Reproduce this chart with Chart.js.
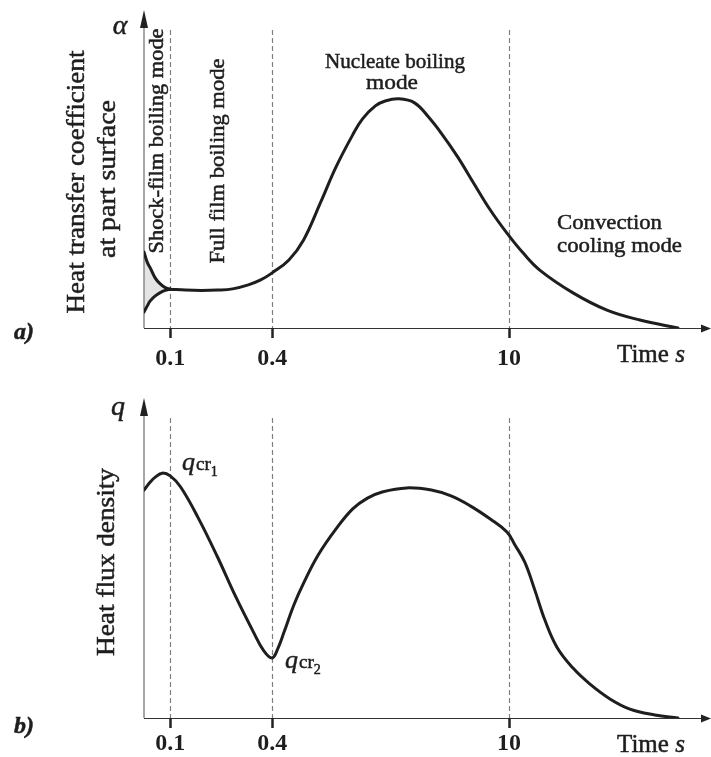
<!DOCTYPE html>
<html>
<head>
<meta charset="utf-8">
<script src="https://cdn.jsdelivr.net/npm/chart.js@4.4.0/dist/chart.umd.min.js"></script>
<style>
  body { margin: 0; background: #fff; }
  canvas { display: block; }
</style>
</head>
<body>
<canvas id="alphaChart" width="711" height="380"></canvas>
<canvas id="fluxChart" width="711" height="377"></canvas>
<script>
// time axis ticks (s)
var tickValues = [0.1, 0.4, 10];
var tickLabels = ["0.1", "0.4", "10"];

// a) shock-film branches (upper / lower envelope)
var shockTime = [0.07, 0.0731, 0.0762, 0.0816, 0.0873, 0.0934, 0.1];
var shockUpper = [24.7, 21.4, 19.5, 16.2, 14.3, 13.1, 12.6];
var shockLower = [5.2, 7.1, 8.8, 10.4, 11.5, 12.2, 12.6];

// a) heat transfer coefficient
var alphaTime = [0.1, 0.1236, 0.1528, 0.189, 0.2335, 0.289, 0.342, 0.4, 0.502, 0.613, 0.77, 0.953,
  1.195, 1.366, 1.626, 1.858, 2.24, 2.77, 3.35, 3.98, 4.99, 6.18, 7.76, 9.73, 12.1, 15.2,
  23.9, 37.9, 59.3, 99.5];
var alphaValue = [12.6, 12.3, 12.2, 12.3, 12.7, 14.0, 15.6, 17.9, 22.1, 28.6, 40.6, 52.3,
  62.7, 67.9, 72.1, 73.7, 74.4, 73.1, 68.5, 63.3, 55.5, 47.1, 38.3, 30.8, 24.4, 18.8,
  11.4, 5.8, 2.6, 0];

// b) heat flux density
var fluxTime = [0.07, 0.0762, 0.0816, 0.0897, 0.1, 0.1152, 0.1465, 0.189, 0.244, 0.31, 0.357, 0.4,
  0.433, 0.47, 0.537, 0.613, 0.749, 0.953, 1.195, 1.461, 1.785, 2.49, 3.48, 4.55, 5.94, 7.76, 9.73,
  10.85, 12.4, 14.2, 16.3, 19.2, 23.9, 30.1, 39.5, 51.8, 72.7, 99.5];
var fluxValue = [74.0, 76.6, 78.2, 79.5, 78.6, 75.0, 64.9, 52.6, 39.3, 27.9, 21.8, 19.5,
  22.7, 27.9, 36.7, 43.8, 53.0, 61.4, 67.9, 71.4, 73.4, 74.7, 74.0, 72.1, 68.8, 64.6, 60.4,
  56.2, 50.6, 41.6, 31.8, 23.0, 16.2, 11.0, 6.2, 2.9, 1.0, 0];

var INK = "#1e1e1e";
var FONT = '"Liberation Serif", "DejaVu Serif", serif';

function pts(xs, ys) {
  return xs.map(function (x, i) { return { x: x, y: ys[i] }; });
}

function ink(ctx, str, x, y) {
  ctx.fillText(str, x, y);
  ctx.strokeText(str, x, y);
}

function drawText(ctx, str, x, y, o) {
  ctx.save();
  ctx.translate(x, y);
  if (o.rotate) ctx.rotate(-Math.PI / 2);
  ctx.font = (o.style || "") + " " + o.size + "px " + FONT;
  ctx.textAlign = o.align || "center";
  ctx.textBaseline = o.baseline || "middle";
  ctx.fillStyle = INK;
  ctx.strokeStyle = INK;
  ctx.lineWidth = 0.5;
  if (o.width) {
    var w = ctx.measureText(str).width;
    ctx.scale(o.width / w, 1);
  }
  ink(ctx, str, 0, 0);
  ctx.restore();
}

function timeLabel(ctx, x, y) {
  ctx.save();
  ctx.fillStyle = INK;
  ctx.strokeStyle = INK;
  ctx.lineWidth = 0.5;
  ctx.textBaseline = "middle";
  ctx.textAlign = "left";
  ctx.font = "25px " + FONT;
  ink(ctx, "Time ", x, y);
  var w = ctx.measureText("Time ").width;
  ctx.font = "italic 25px " + FONT;
  ink(ctx, "s", x + w, y);
  ctx.restore();
}

function qcr(ctx, x, y, sub) {
  ctx.save();
  ctx.fillStyle = INK;
  ctx.strokeStyle = INK;
  ctx.lineWidth = 0.5;
  ctx.textBaseline = "alphabetic";
  ctx.textAlign = "left";
  ctx.font = "italic 26px " + FONT;
  ink(ctx, "q", x, y);
  x += ctx.measureText("q").width + 1;
  ctx.font = "19px " + FONT;
  ink(ctx, "cr", x, y);
  x += ctx.measureText("cr").width;
  ctx.font = "14px " + FONT;
  ink(ctx, sub, x, y + 6);
  ctx.restore();
}

var decor = {
  id: "decor",
  beforeDatasetsDraw: function (chart, args, opts) {
    var ctx = chart.ctx, a = chart.chartArea, xs = chart.scales.x;
    ctx.save();
    // dashed mode boundaries
    ctx.strokeStyle = "#808080";
    ctx.lineWidth = 1.2;
    ctx.setLineDash([5, 3]);
    tickValues.forEach(function (v) {
      var px = Math.round(xs.getPixelForValue(v)) + 0.5;
      ctx.beginPath();
      ctx.moveTo(px, a.top + opts.dashTop);
      ctx.lineTo(px, a.bottom);
      ctx.stroke();
    });
    ctx.setLineDash([]);
    // y axis with arrow
    ctx.strokeStyle = "#8a8a8a";
    ctx.lineWidth = 1.5;
    ctx.beginPath();
    ctx.moveTo(a.left, a.bottom);
    ctx.lineTo(a.left, a.top - 4);
    ctx.stroke();
    ctx.fillStyle = "#222";
    var tip = a.top - opts.arrowUp;
    ctx.beginPath();
    ctx.moveTo(a.left, tip);
    ctx.lineTo(a.left - 4, tip + 18);
    ctx.lineTo(a.left + 4, tip + 18);
    ctx.closePath();
    ctx.fill();
    // x axis with arrow
    ctx.strokeStyle = "#333";
    ctx.lineWidth = 1.2;
    ctx.beginPath();
    ctx.moveTo(a.left, a.bottom + 0.5);
    ctx.lineTo(chart.width - 6, a.bottom + 0.5);
    ctx.stroke();
    ctx.beginPath();
    ctx.moveTo(chart.width, a.bottom + 0.5);
    ctx.lineTo(chart.width - 10, a.bottom - 3.5);
    ctx.lineTo(chart.width - 10, a.bottom + 4.5);
    ctx.closePath();
    ctx.fill();
    // tick marks
    ctx.strokeStyle = "#222";
    ctx.lineWidth = 2.5;
    tickValues.forEach(function (v) {
      var px = Math.round(xs.getPixelForValue(v)) + 0.5;
      ctx.beginPath();
      ctx.moveTo(px, a.bottom);
      ctx.lineTo(px, a.bottom + 10);
      ctx.stroke();
    });
    ctx.restore();
  },
  afterDraw: function (chart, args, opts) {
    if (opts.draw) opts.draw(chart.ctx, chart);
  }
};

function makeChart(id, datasets, o) {
  return new Chart(document.getElementById(id), {
    type: "line",
    data: { datasets: datasets },
    options: {
      responsive: false,
      animation: false,
      devicePixelRatio: 1,
      layout: { padding: { left: 144, right: 9, top: o.top, bottom: 0 } },
      elements: {
        point: { radius: 0 },
        line: { borderWidth: 3, borderColor: INK, tension: 0.4, borderCapStyle: "round", borderJoinStyle: "round" }
      },
      plugins: {
        legend: { display: false },
        tooltip: { enabled: false },
        filler: { drawTime: "beforeDatasetsDraw" },
        decor: { dashTop: o.dashTop, arrowUp: o.arrowUp, draw: o.draw }
      },
      scales: {
        x: {
          type: "logarithmic",
          min: 0.07,
          max: 138,
          grid: { display: false, drawTicks: false },
          border: { display: false },
          afterBuildTicks: function (s) {
            s.ticks = tickValues.map(function (v) { return { value: v }; });
          },
          afterFit: function (s) { s.height = o.axisH; },
          ticks: {
            autoSkip: false,
            maxRotation: 0,
            padding: o.tickPad,
            color: INK,
            font: { family: FONT, size: 24, weight: "bold" },
            callback: function (v) { return tickLabels[tickValues.indexOf(v)]; }
          }
        },
        y: { display: false, min: 0, max: 100 }
      }
    },
    plugins: [decor]
  });
}

makeChart("alphaChart", [
  { data: pts(shockTime, shockUpper), fill: "+1", backgroundColor: "#e4e4e4" },
  { data: pts(shockTime, shockLower), fill: false },
  { data: pts(alphaTime, alphaValue), fill: false }
], {
  top: 20, axisH: 52, tickPad: 16, dashTop: 10, arrowUp: 10,
  draw: function (ctx) {
    drawText(ctx, "\u03b1", 120, 27, { size: 28, style: "italic" });
    drawText(ctx, "Heat transfer coefficient", 77, 182, { size: 26, rotate: true, width: 263 });
    drawText(ctx, "at part surface", 108, 179, { size: 26, rotate: true, width: 158 });
    drawText(ctx, "Shock-film boiling mode", 158, 141, { size: 20, rotate: true, width: 225 });
    drawText(ctx, "Full film boiling mode", 218, 161, { size: 22, rotate: true, width: 205 });
    drawText(ctx, "Nucleate boiling", 395, 62, { size: 22, width: 140 });
    drawText(ctx, "mode", 392, 83, { size: 22, width: 52 });
    drawText(ctx, "Convection", 557, 223, { size: 22, align: "left", width: 105 });
    drawText(ctx, "cooling mode", 557, 246, { size: 22, align: "left", width: 125 });
    drawText(ctx, "a)", 24, 333, { size: 24, style: "italic bold" });
    timeLabel(ctx, 617, 355);
  }
});

makeChart("fluxChart", [
  { data: pts(fluxTime, fluxValue), fill: false }
], {
  top: 30, axisH: 39, tickPad: 11, dashTop: 8, arrowUp: 12,
  draw: function (ctx) {
    drawText(ctx, "q", 118, 28, { size: 28, style: "italic" });
    drawText(ctx, "Heat flux density", 107, 182, { size: 26, rotate: true, width: 188 });
    drawText(ctx, "b)", 24, 347, { size: 24, style: "italic bold" });
    qcr(ctx, 182, 90, "1");
    qcr(ctx, 285, 288, "2");
    timeLabel(ctx, 617, 365);
  }
});
</script>
</body>
</html>
